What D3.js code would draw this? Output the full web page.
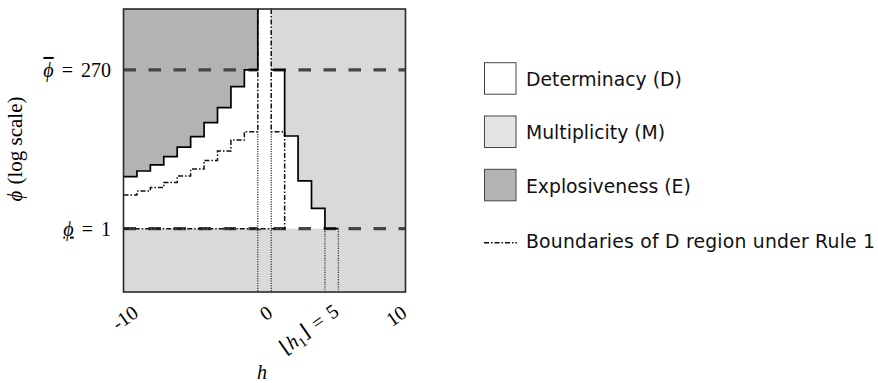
<!DOCTYPE html>
<html>
<head>
<meta charset="utf-8">
<script src="https://cdn.jsdelivr.net/npm/d3@7/dist/d3.min.js"></script>
<style>
  html, body { margin: 0; padding: 0; background: #fff; }
  svg { display: block; }
</style>
</head>
<body>
<svg id="chart" width="878" height="383"></svg>
<script>
// Grid of h values, one column per integer h
const hLeft = [-10, -9, -8, -7, -6, -5, -4, -3, -2, -1];
const hRight = [1, 2, 3, 4, 5];
// Upper edge of the determinacy region (solid staircase), phi values
const upperLeft = [6.26, 7.65, 9.46, 12.7, 17.7, 25.7, 42, 71.4, 150, 270];
const upperRight = [270, 26.3, 5.4, 2.05, 1];
// Upper edge of the D region under Rule 1 (dash-dot staircase)
const rule1Left = [3.28, 3.78, 4.28, 5.1, 6.4, 8.2, 11.1, 15.5, 22.8, 30.6];
const rule1Right = [30.6];
// Reference levels and axis ticks
const phiBar = 270;
const phiLow = 1;
const h1Floor = 5;
const xTicks = [-10, 0, 5, 10];
// Legend entries
const legendLabels = ["Determinacy (D)", "Multiplicity (M)", "Explosiveness (E)"];
const legendColors = ["#ffffff", "#e4e4e4", "#b3b3b3"];
const legendLineLabel = "Boundaries of D region under Rule 1";

const colD = "#ffffff", colM = "#d9d9d9", colE = "#b3b3b3";
const dashDot = "5,2,1.5,2";

const svg = d3.select("#chart");
const pLeft = 123.5, pRight = 405.5, pTop = 9, pBottom = 292;

const x = d3.scaleLinear().domain([-10.5, 10.5]).range([pLeft, pRight]);
const y = d3.scaleLog().domain([0.107, 2320]).range([pBottom, pTop]);
const [phiMin, phiMax] = y.domain();

const plot = svg.append("g");

// Multiplicity background
plot.append("rect")
  .attr("x", pLeft).attr("y", pTop)
  .attr("width", pRight - pLeft).attr("height", pBottom - pTop)
  .attr("fill", colM);

// Staircase vertices: each column spans h - 0.5 .. h + 0.5
const leftSteps = hLeft.map((h, i) => [h - 0.5, upperLeft[i]]);
leftSteps.push([hLeft[hLeft.length - 1] + 0.5, upperLeft[upperLeft.length - 1]]);
const rightSteps = hRight.map((h, i) => [h - 0.5, upperRight[i]]);
rightSteps.push([hRight[hRight.length - 1] + 0.5, upperRight[upperRight.length - 1]]);

const stepArea = d3.area().x(d => x(d[0])).curve(d3.curveStepAfter);

// Explosiveness above the left staircase
plot.append("path")
  .attr("d", stepArea.y0(y(phiMax)).y1(d => y(d[1]))(leftSteps))
  .attr("fill", colE);
// Determinacy below both staircases
plot.append("path")
  .attr("d", stepArea.y0(y(phiLow)).y1(d => y(d[1]))(leftSteps))
  .attr("fill", colD);
plot.append("path")
  .attr("d", stepArea.y0(y(phiLow)).y1(d => y(d[1]))(rightSteps))
  .attr("fill", colD);

// Reference levels phi-bar and phi-underbar
[phiBar, phiLow].forEach(v => {
  plot.append("line")
    .attr("x1", pLeft).attr("x2", pRight)
    .attr("y1", y(v)).attr("y2", y(v))
    .attr("stroke", "#454545").attr("stroke-width", 3.2)
    .attr("stroke-dasharray", "12.5,12.5");
});

// Central column h = 0 is determinate for every phi >= 1
plot.append("rect")
  .attr("x", x(-0.5)).attr("y", y(phiMax))
  .attr("width", x(0.5) - x(-0.5))
  .attr("height", y(phiLow) - y(phiMax))
  .attr("fill", colD);

// Dotted guides for h = 0 and for floor(h1) = 5
[[-0.5, rule1Left[rule1Left.length - 1]], [0.5, rule1Right[0]],
 [h1Floor - 0.5, phiLow], [h1Floor + 0.5, phiLow]].forEach(([hv, pv]) => {
  plot.append("line")
    .attr("x1", x(hv)).attr("x2", x(hv))
    .attr("y1", y(pv)).attr("y2", pBottom)
    .attr("stroke", "#333").attr("stroke-width", 1.2)
    .attr("stroke-dasharray", "1.2,1.2");
});

const line = d3.line().x(d => x(d[0])).y(d => y(d[1]));
const stepLine = d3.line().x(d => x(d[0])).y(d => y(d[1])).curve(d3.curveStepAfter);

// Rule 1 boundary: left staircase up to the central strip
const r1a = hLeft.map((h, i) => [h - 0.5, rule1Left[i]]);
r1a.push([-0.5, rule1Left[rule1Left.length - 1]]);
r1a.push([-0.5, phiMax]);
plot.append("path").attr("d", stepLine(r1a))
  .attr("fill", "none").attr("stroke", "#111").attr("stroke-width", 1.5)
  .attr("stroke-dasharray", dashDot);
// Rule 1 boundary: right of the strip, then back along phi = 1
const r1b = [[0.5, phiMax], [0.5, rule1Right[0]], [1.5, rule1Right[0]], [1.5, phiLow], [-10.5, phiLow]];
plot.append("path").attr("d", line(r1b))
  .attr("fill", "none").attr("stroke", "#111").attr("stroke-width", 1.5)
  .attr("stroke-dasharray", dashDot);

// Solid boundary of D: left staircase, closed up the strip edge
const sa = leftSteps.concat([[-0.5, phiMax]]);
plot.append("path").attr("d", stepLine(sa))
  .attr("fill", "none").attr("stroke", "#000").attr("stroke-width", 1.7);
// Solid boundary of D: right staircase
plot.append("path").attr("d", stepLine(rightSteps))
  .attr("fill", "none").attr("stroke", "#000").attr("stroke-width", 1.7);

// Frame
plot.append("rect")
  .attr("x", pLeft).attr("y", pTop)
  .attr("width", pRight - pLeft).attr("height", pBottom - pTop)
  .attr("fill", "none").attr("stroke", "#2a2a2a").attr("stroke-width", 1.6);

// X axis with rotated tick labels
const serif = "'Liberation Serif', 'DejaVu Serif', serif";
const xAxis = d3.axisBottom(x).tickValues(xTicks).tickSize(0)
  .tickFormat(d => d === h1Floor ? "" : String(d));
const gx = svg.append("g").attr("transform", `translate(0,${pBottom})`).call(xAxis);
gx.select(".domain").remove();
gx.selectAll("text")
  .attr("font-family", serif).attr("font-size", 20).attr("fill", "#000")
  .attr("text-anchor", "end")
  .attr("x", 0).attr("y", 0).attr("dy", "0.35em")
  .attr("transform", "translate(5,18) rotate(-35)");
gx.selectAll(".tick").filter(d => d === h1Floor).select("text")
  .call(t => {
    t.append("tspan").text("⌊");
    t.append("tspan").attr("font-style", "italic").text("h");
    t.append("tspan").attr("font-size", 14).attr("dy", "0.3em").text("1");
    t.append("tspan").attr("dy", "-0.3em").text("⌋");
    t.append("tspan").attr("dx", 7).text("=");
    t.append("tspan").attr("dx", 7).text(String(h1Floor));
  });

svg.append("text")
  .attr("x", 262).attr("y", 379)
  .attr("font-family", serif).attr("font-size", 20).attr("font-style", "italic")
  .attr("text-anchor", "middle").text("h");

// Y tick labels at the two reference levels
const yLab = svg.append("g").attr("font-family", serif).attr("font-size", 20).attr("fill", "#000");
const t1 = yLab.append("text").attr("x", 111).attr("y", y(phiBar)).attr("dy", "0.35em").attr("text-anchor", "end");
t1.append("tspan").attr("font-style", "italic").attr("text-decoration", "overline").text("ϕ");
t1.append("tspan").attr("dx", 8).text("=");
t1.append("tspan").attr("dx", 8).text(String(phiBar));
const t2 = yLab.append("text").attr("x", 111).attr("y", y(phiLow)).attr("dy", "0.35em").attr("text-anchor", "end");
t2.append("tspan").attr("font-style", "italic").attr("text-decoration", "underline").text("ϕ");
t2.append("tspan").attr("dx", 8).text("=");
t2.append("tspan").attr("dx", 8).text(String(phiLow));

// Y axis title
const yt = svg.append("text")
  .attr("transform", "translate(22,149) rotate(-90)")
  .attr("font-family", serif).attr("font-size", 21).attr("text-anchor", "middle");
yt.append("tspan").attr("font-style", "italic").text("ϕ");
yt.append("tspan").attr("dx", 6).text("(log scale)");

// Legend
const sans = "'DejaVu Sans', sans-serif";
const lg = svg.append("g").attr("font-family", sans).attr("font-size", 18.8).attr("fill", "#111");
legendLabels.forEach((lab, i) => {
  const yy = 62.7 + i * 53.3;
  lg.append("rect").attr("x", 484.5).attr("y", yy).attr("width", 31.5).attr("height", 31.5)
    .attr("fill", legendColors[i]).attr("stroke", "#444").attr("stroke-width", 1);
  lg.append("text").attr("x", 526).attr("y", yy + 23.3).text(lab);
});
lg.append("line").attr("x1", 484).attr("x2", 517).attr("y1", 242.7).attr("y2", 242.7)
  .attr("stroke", "#111").attr("stroke-width", 1.6).attr("stroke-dasharray", dashDot);
lg.append("text").attr("x", 526).attr("y", 248.3).attr("textLength", 349).text(legendLineLabel);
</script>
</body>
</html>
